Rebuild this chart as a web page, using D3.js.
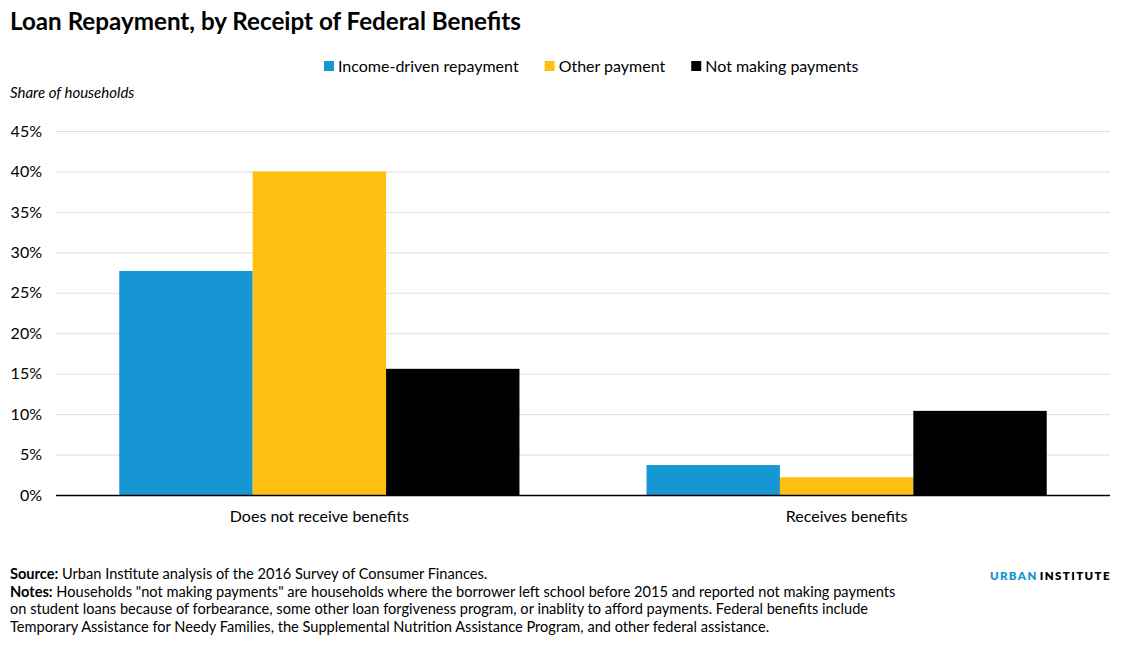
<!DOCTYPE html>
<html><head><meta charset="utf-8">
<script src="https://cdn.jsdelivr.net/npm/d3@7"></script>
<style>
body{margin:0;background:#fff;font-family:Lato,"Open Sans",sans-serif;}
svg text{font-family:Lato,sans-serif;}
</style></head>
<body>
<svg id="chart" width="1130" height="646"></svg>
<script>
const categories = ["Does not receive benefits", "Receives benefits"];
const seriesNames = ["Income-driven repayment", "Other payment", "Not making payments"];
const incomeDriven = [27.7, 3.7];
const otherPayment = [40.0, 2.2];
const notMaking = [15.6, 10.4];
const yTicks = [0, 5, 10, 15, 20, 25, 30, 35, 40, 45];
const colors = ["#1696d2", "#fdbf11", "#000000"];
const seriesValues = [incomeDriven, otherPayment, notMaking];

const svg = d3.select("#chart");
const m = {left:56, right:1110, top:131, bottom:495};

const x0 = d3.scaleBand().domain(categories).range([m.left, m.right]).paddingInner(0.241).paddingOuter(0.12);
const x1 = d3.scaleBand().domain(seriesNames).range([0, x0.bandwidth()]).padding(0);
const y = d3.scaleLinear().domain([0,45]).range([m.bottom, m.top]);

// title
svg.append("text").attr("x",10).attr("y",30).attr("font-size",24.2).attr("font-weight",700).attr("fill","#000")
  .text("Loan Repayment, by Receipt of Federal Benefits");

// legend
const legend = svg.append("g");
let lx = 324;
seriesNames.forEach((s,i)=>{
  const g = legend.append("g").attr("transform",`translate(${lx},0)`);
  g.append("rect").attr("x",0).attr("y",61).attr("width",10).attr("height",10).attr("fill",colors[i]);
  const t = g.append("text").attr("x",14).attr("y",72).attr("font-size",16).attr("fill","#000").text(s);
  const w = t.node().getComputedTextLength();
  lx += 14 + w + 26;
});

// y axis label
svg.append("text").attr("x",10).attr("y",98).attr("font-size",15).attr("font-style","italic").attr("fill","#000")
  .text("Share of households");

// grid
const yAxis = d3.axisLeft(y).tickValues(yTicks).tickFormat(d=>d+"%").tickSize(-(m.right-m.left)).tickPadding(14);
const ga = svg.append("g").attr("transform",`translate(${m.left},0)`).call(yAxis);
ga.select(".domain").remove();
ga.selectAll(".tick line").attr("stroke","#dedede").attr("stroke-width",1);
ga.selectAll(".tick text").attr("font-size",16).attr("fill","#000").attr("font-family","Lato, sans-serif");

// bars
const groups = svg.append("g").selectAll("g").data(categories).join("g")
  .attr("transform",d=>`translate(${x0(d)},0)`);
groups.selectAll("rect").data((d,ci)=>seriesNames.map((s,si)=>({s, v:seriesValues[si][ci], c:colors[si]})))
  .join("rect")
  .attr("x",d=>x1(d.s)).attr("width",x1.bandwidth())
  .attr("y",d=>y(d.v)).attr("height",d=>y(0)-y(d.v)).attr("fill",d=>d.c);

// baseline
svg.append("line").attr("x1",m.left).attr("x2",m.right).attr("y1",y(0)+0.5).attr("y2",y(0)+0.5).attr("stroke","#000").attr("stroke-width",1.5);

// x labels
const xAxis = d3.axisBottom(x0).tickSize(0).tickPadding(16);
const gx = svg.append("g").attr("transform",`translate(0,${m.bottom})`).call(xAxis);
gx.select(".domain").remove();
gx.selectAll("text").attr("font-size",16).attr("fill","#000").attr("font-family","Lato, sans-serif");

// footer
const foot = svg.append("g").attr("font-size",14.6).attr("fill","#000");
const lines = [
  [["Source:",true],[" Urban Institute analysis of the 2016 Survey of Consumer Finances.",false]],
  [["Notes:",true],[" Households \"not making payments\" are households where the borrower left school before 2015 and reported not making payments",false]],
  [["on student loans because of forbearance, some other loan forgiveness program, or inablity to afford payments. Federal benefits include",false]],
  [["Temporary Assistance for Needy Families, the Supplemental Nutrition Assistance Program, and other federal assistance.",false]]
];
lines.forEach((ln,i)=>{
  const t = foot.append("text").attr("x",10).attr("y",579+i*17.7);
  ln.forEach(([s,b])=>t.append("tspan").attr("font-weight",b?700:400).text(s));
});

// logo
const logo = svg.append("text").attr("x",1111).attr("y",580).attr("text-anchor","end").attr("font-size",11.5).attr("font-weight",800).attr("letter-spacing",1.4);
logo.append("tspan").attr("fill","#1696d2").text("URBAN");
logo.append("tspan").attr("fill","#000").attr("dx",2).text("INSTITUTE");
</script>
</body></html>
